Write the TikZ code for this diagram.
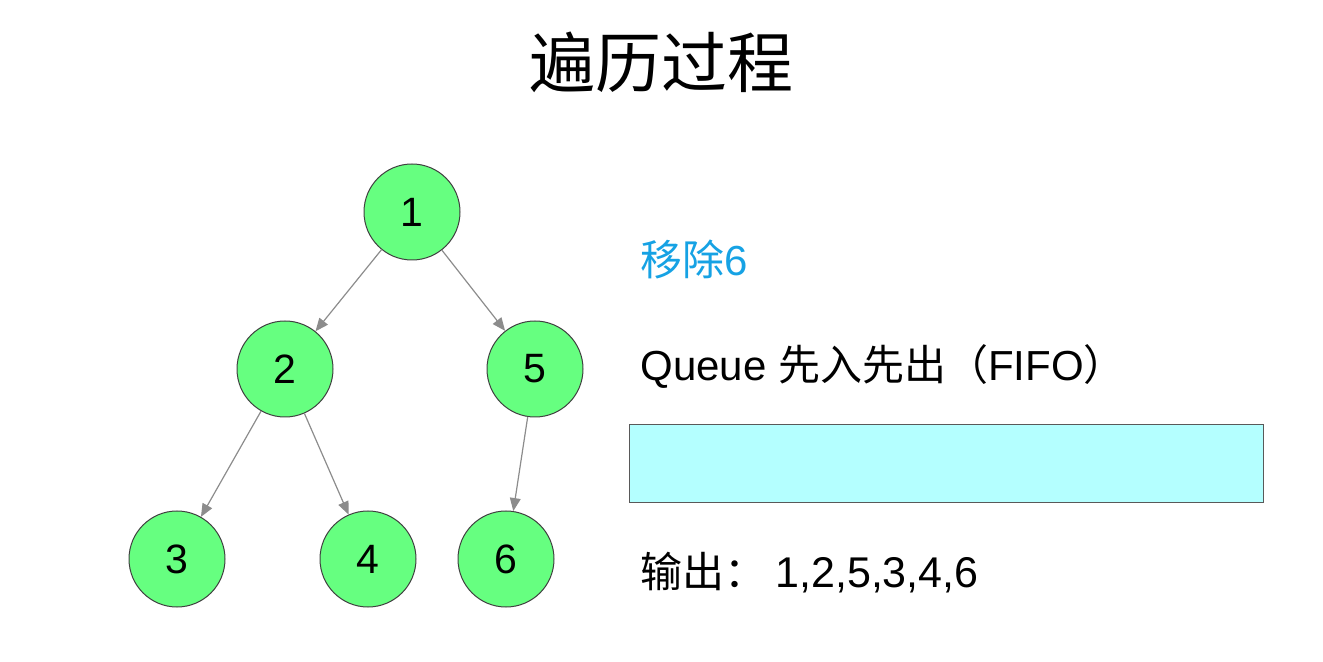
\documentclass[tikz,border=0pt]{standalone}
\usepackage{fontspec}
\setmainfont{Liberation Sans}
\newfontfamily\cjk{Noto Sans CJK SC}
\usetikzlibrary{arrows.meta}
\definecolor{nodegreen}{RGB}{102,255,128}
\definecolor{queuecyan}{RGB}{180,255,255}
\definecolor{edgegray}{RGB}{140,140,140}
\definecolor{tipblue}{RGB}{22,162,228}
\begin{document}
\begin{tikzpicture}[x=0.5pt,y=-0.5pt,
  treenode/.style={circle,draw=black!75,line width=0.5pt,fill=nodegreen,minimum size=48pt,inner sep=0pt,font=\fontsize{20.5}{24}\selectfont},
  edge/.style={draw=edgegray,line width=0.6pt,-{Triangle[length=6.5pt,width=5.4pt]}},
  label/.style={anchor=base west,inner sep=0pt,font=\fontsize{21}{25}\selectfont}]
\useasboundingbox (0,0) rectangle (1323,662);
\node[inner sep=0pt,font=\cjk\fontsize{33}{40}\selectfont] (title) at (661,62) {遍历过程};
\node[treenode] (n1) at (412,212) {1};
\node[treenode] (n2) at (285,369) {2};
\node[treenode] (n5) at (535,369) {5};
\node[treenode] (n3) at (177,559) {3};
\node[treenode] (n4) at (368,559) {4};
\node[treenode] (n6) at (506,559) {6};
\draw[edge] (n1) -- (n2);
\draw[edge] (n1) -- (n5);
\draw[edge] (n2) -- (n3);
\draw[edge] (n2) -- (n4);
\draw[edge] (n5) -- (n6);
\node[label,text=tipblue] (remove) at (640,276) {{\cjk 移除}6};
\node[label] (queue) at (640,381) {Queue {\cjk 先入先出（}FIFO{\cjk ）}};
\node[draw=black!65,line width=0.5pt,fill=queuecyan,minimum width=317pt,minimum height=39pt,inner sep=0pt] (box) at (946,464) {};
\node[label] (out) at (640,588) {{\cjk 输出：}\hspace{4.5pt}{\fontsize{21.5}{25}\selectfont 1,2,5,3,4,6}};
\end{tikzpicture}
\end{document}
